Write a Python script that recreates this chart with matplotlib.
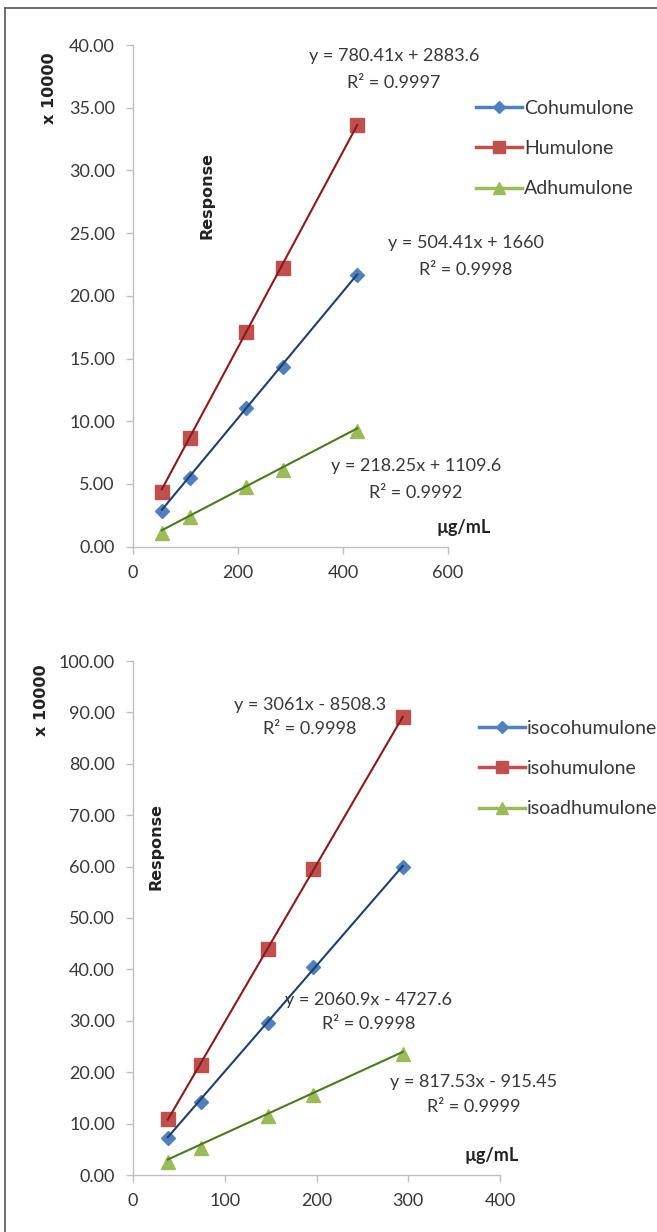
import matplotlib
matplotlib.use("Agg")
import matplotlib.pyplot as plt
import numpy as np
from matplotlib.lines import Line2D

# ---- data ----
conc_a = [55, 109, 215, 286, 427]
cohumulone = [2.87, 5.50, 11.05, 14.30, 21.70]
humulone = [4.39, 8.65, 17.10, 22.20, 33.60]
adhumulone = [1.07, 2.40, 4.74, 6.12, 9.23]
names_a = ["Cohumulone", "Humulone", "Adhumulone"]
slope_a = [504.41, 780.41, 218.25]
icpt_a = [1660, 2883.6, 1109.6]
r2_a = [0.9998, 0.9997, 0.9992]

conc_b = [38, 74, 147, 196, 294]
isocohumulone = [7.2, 14.25, 29.5, 40.4, 60.0]
isohumulone = [10.8, 21.4, 43.9, 59.5, 89.1]
isoadhumulone = [2.5, 5.35, 11.4, 15.5, 23.5]
names_b = ["isocohumulone", "isohumulone", "isoadhumulone"]
slope_b = [2060.9, 3061, 817.53]
icpt_b = [-4727.6, -8508.3, -915.45]
r2_b = [0.9998, 0.9998, 0.9999]

MARK_COL = ["#4F81BD", "#C0504D", "#9BBB59"]
TREND_COL = ["#1F3F6E", "#8B1A1A", "#4A7A1E"]
MARKERS = ["D", "s", "^"]
MSIZE = [7, 10, 10]
AX_COL = "#BFBFBF"
TXT = "#383838"
FONT = "Lato"

fig = plt.figure(figsize=(6.57, 12.32), dpi=100)
W, H = 657, 1232

def fx(px): return px / W
def fy(py): return 1 - py / H

# outer frame
fig.add_artist(Line2D([fx(5), fx(5)], [0, fy(7.5)], color="#555", lw=1.2))
fig.add_artist(Line2D([fx(5), 1], [fy(7.5), fy(7.5)], color="#555", lw=1.2))


def style_axes(ax):
    for s in ["top", "right"]:
        ax.spines[s].set_visible(False)
    for s in ["left", "bottom"]:
        ax.spines[s].set_color(AX_COL)
        ax.spines[s].set_linewidth(1.0)
    ax.tick_params(length=5, width=1, color=AX_COL, labelcolor=TXT,
                   labelsize=13, pad=8)
    for lab in ax.get_xticklabels() + ax.get_yticklabels():
        lab.set_family(FONT)
    ax.yaxis.set_major_formatter(matplotlib.ticker.FormatStrFormatter("%.2f"))


def draw_panel(ax, conc, series, names, slopes, icpts):
    x = np.array(conc, dtype=float)
    for i, ys in enumerate(series):
        ax.plot(x, ys, ls="none", marker=MARKERS[i], ms=MSIZE[i],
                color=MARK_COL[i], mec=MARK_COL[i], zorder=3, clip_on=False)
    for i in range(len(series)):
        xl = np.array([x[0], x[-1]])
        ax.plot(xl, (slopes[i] * xl + icpts[i]) / 10000, color=TREND_COL[i],
                lw=1.5, zorder=4, clip_on=False)
    handles = [Line2D([], [], color=MARK_COL[i], marker=MARKERS[i],
                      ms=MSIZE[i] * 0.9, lw=2.5) for i in range(len(names))]
    return handles


def eq_text(ax, x, y, m, b, r2, dy):
    sign = "+" if b >= 0 else "-"
    mtxt = f"{m:g}"
    ax.text(x, y, f"y = {mtxt}x {sign} {abs(b):g}", ha="center", va="center",
            fontsize=13, family=FONT, color=TXT, clip_on=False)
    ax.text(x, y - dy, f"R² = {r2:.4f}", ha="center", va="center",
            fontsize=13, family=FONT, color=TXT, clip_on=False)


# ---- top panel ----
ax1 = fig.add_axes([fx(133), fy(546.7), fx(448) - fx(133), fy(45) - fy(546.7)])
h1 = draw_panel(ax1, conc_a, [cohumulone, humulone, adhumulone], names_a,
                slope_a, icpt_a)
ax1.set_xlim(0, 600)
ax1.set_ylim(0, 40)
ax1.set_xticks([0, 200, 400, 600])
ax1.set_yticks(np.arange(0, 40.1, 5))
style_axes(ax1)
eq_text(ax1, 497, 39.1, slope_a[1], icpt_a[1], r2_a[1], 2.1)
eq_text(ax1, 634, 24.2, slope_a[0], icpt_a[0], r2_a[0], 2.1)
eq_text(ax1, 539, 6.46, slope_a[2], icpt_a[2], r2_a[2], 2.15)
ax1.text(629, 1.5, "µg/mL", ha="center", va="center", fontsize=13,
         family=FONT, weight="bold", color="#222", clip_on=False)
ax1.text(141, 28, "Response", ha="center", va="center", rotation=90,
         fontsize=11.5, weight="bold", color="#222")
fig.text(fx(50), fy(88), "x 10000", ha="center", va="center", rotation=90,
         fontsize=11.5, weight="bold", color="#222")
fig.legend(h1, names_a, loc="upper left", bbox_to_anchor=(fx(466), fy(90)),
           frameon=False, borderpad=0, handlelength=2.4, handletextpad=0.1,
           labelspacing=1.2, prop={"family": FONT, "size": 14},
           labelcolor=TXT)

# ---- bottom panel ----
ax2 = fig.add_axes([fx(133), fy(1175), fx(500) - fx(133), fy(661) - fy(1175)])
h2 = draw_panel(ax2, conc_b, [isocohumulone, isohumulone, isoadhumulone],
                names_b, slope_b, icpt_b)
ax2.set_xlim(0, 400)
ax2.set_ylim(0, 100)
ax2.set_xticks([0, 100, 200, 300, 400])
ax2.set_yticks(np.arange(0, 100.1, 10))
style_axes(ax2)
eq_text(ax2, 193, 91.4, slope_b[1], icpt_b[1], r2_b[1], 4.7)
eq_text(ax2, 257, 34.1, slope_b[0], icpt_b[0], r2_b[0], 4.7)
eq_text(ax2, 371, 18.1, slope_b[2], icpt_b[2], r2_b[2], 4.8)
ax2.text(391, 3.7, "µg/mL", ha="center", va="center", fontsize=13,
         family=FONT, weight="bold", color="#222", clip_on=False)
ax2.text(25, 64, "Response", ha="center", va="center", rotation=90,
         fontsize=11.5, weight="bold", color="#222")
fig.text(fx(42), fy(700), "x 10000", ha="center", va="center", rotation=90,
         fontsize=11.5, weight="bold", color="#222")
fig.legend(h2, names_b, loc="upper left", bbox_to_anchor=(fx(469), fy(710)),
           frameon=False, borderpad=0, handlelength=2.4, handletextpad=0.1,
           labelspacing=1.2, prop={"family": FONT, "size": 14},
           labelcolor=TXT)

fig.savefig("out.png", dpi=100)
